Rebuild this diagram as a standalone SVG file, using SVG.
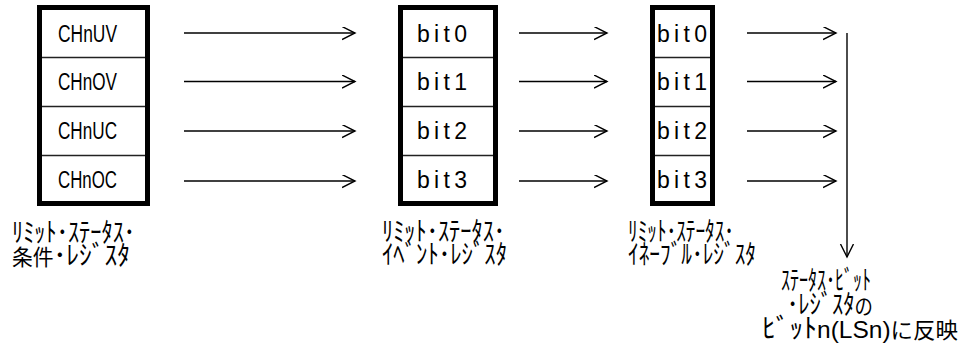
<svg xmlns="http://www.w3.org/2000/svg" width="964" height="345" viewBox="0 0 964 345">
  <style>
    .reg { fill: #fff; stroke: #000; stroke-width: 5; }
    .div { stroke: #222; stroke-width: 1.5; }
    .cell { font-family: "Liberation Sans", Arial, sans-serif; font-size: 23px; fill: #000; }
    .lbl { font-family: "Noto Sans CJK JP", sans-serif; font-size: 27px; fill: #000; }
    .kanji { font-size: 22px; }
    .latin { font-family: "Liberation Sans", Arial, sans-serif; font-size: 24px; }
    .conn { stroke: #000; stroke-width: 1.4; fill: none; }
  </style>
  <defs>
    <marker id="open-arrow" markerUnits="userSpaceOnUse" markerWidth="16" markerHeight="16" refX="13" refY="6.5" orient="auto">
      <path d="M0,0 L13,6.5 L0,13" fill="none" stroke="#000" stroke-width="1.4"/>
    </marker>
  </defs>

  <!-- condition register -->
  <g id="condition-register">
    <rect class="reg" x="39.5" y="7.5" width="108" height="196"/>
    <line class="div" x1="42" y1="57.5" x2="145" y2="57.5"/>
    <line class="div" x1="42" y1="106.5" x2="145" y2="106.5"/>
    <line class="div" x1="42" y1="155.5" x2="145" y2="155.5"/>
    <text class="cell" x="58" y="41.5" textLength="59" lengthAdjust="spacingAndGlyphs">CHnUV</text>
    <text class="cell" x="58" y="90" textLength="59" lengthAdjust="spacingAndGlyphs">CHnOV</text>
    <text class="cell" x="58" y="139" textLength="59" lengthAdjust="spacingAndGlyphs">CHnUC</text>
    <text class="cell" x="58" y="187.5" textLength="59" lengthAdjust="spacingAndGlyphs">CHnOC</text>
    <text class="lbl" x="12" y="242" textLength="123" lengthAdjust="spacingAndGlyphs">ﾘﾐｯﾄ･ｽﾃｰﾀｽ･</text>
    <text class="lbl" x="12" y="265" textLength="118" lengthAdjust="spacingAndGlyphs"><tspan class="kanji">条件</tspan>･ﾚｼﾞｽﾀ</text>
  </g>

  <!-- event register -->
  <g id="event-register">
    <rect class="reg" x="400.5" y="7.5" width="95" height="196"/>
    <line class="div" x1="403" y1="57.5" x2="493" y2="57.5"/>
    <line class="div" x1="403" y1="106.5" x2="493" y2="106.5"/>
    <line class="div" x1="403" y1="155.5" x2="493" y2="155.5"/>
    <text class="cell" x="417" y="41.5" textLength="50" lengthAdjust="spacing">bit0</text>
    <text class="cell" x="417" y="90" textLength="50" lengthAdjust="spacing">bit1</text>
    <text class="cell" x="417" y="139" textLength="50" lengthAdjust="spacing">bit2</text>
    <text class="cell" x="417" y="187.5" textLength="50" lengthAdjust="spacing">bit3</text>
    <text class="lbl" x="382" y="241" textLength="123" lengthAdjust="spacingAndGlyphs">ﾘﾐｯﾄ･ｽﾃｰﾀｽ･</text>
    <text class="lbl" x="382" y="264" textLength="125" lengthAdjust="spacingAndGlyphs">ｲﾍﾞﾝﾄ･ﾚｼﾞｽﾀ</text>
  </g>

  <!-- enable register -->
  <g id="enable-register">
    <rect class="reg" x="652.5" y="7.5" width="60" height="196"/>
    <line class="div" x1="655" y1="57.5" x2="710" y2="57.5"/>
    <line class="div" x1="655" y1="106.5" x2="710" y2="106.5"/>
    <line class="div" x1="655" y1="155.5" x2="710" y2="155.5"/>
    <text class="cell" x="657" y="41.5" textLength="50" lengthAdjust="spacing">bit0</text>
    <text class="cell" x="657" y="90" textLength="50" lengthAdjust="spacing">bit1</text>
    <text class="cell" x="657" y="139" textLength="50" lengthAdjust="spacing">bit2</text>
    <text class="cell" x="657" y="187.5" textLength="50" lengthAdjust="spacing">bit3</text>
    <text class="lbl" x="628" y="241" textLength="106" lengthAdjust="spacingAndGlyphs">ﾘﾐｯﾄ･ｽﾃｰﾀｽ･</text>
    <text class="lbl" x="628" y="264" textLength="128" lengthAdjust="spacingAndGlyphs">ｲﾈｰﾌﾞﾙ･ﾚｼﾞｽﾀ</text>
  </g>

  <!-- status bit register destination -->
  <g id="status-bit-target">
    <text class="lbl" x="781" y="290" textLength="90" lengthAdjust="spacingAndGlyphs">ｽﾃｰﾀｽ･ﾋﾞｯﾄ</text>
    <text class="lbl" x="787" y="314" textLength="86" lengthAdjust="spacingAndGlyphs">･ﾚｼﾞｽﾀ<tspan class="kanji">の</tspan></text>
    <text class="lbl" x="762" y="338" textLength="196" lengthAdjust="spacingAndGlyphs">ﾋﾞｯﾄ<tspan class="latin">n(LSn)</tspan><tspan class="kanji">に反映</tspan></text>
  </g>

  <!-- connectors -->
  <g id="connectors" class="conn" marker-end="url(#open-arrow)">
    <line x1="184" y1="33" x2="355" y2="33"/>
    <line x1="184" y1="81.5" x2="355" y2="81.5"/>
    <line x1="184" y1="131" x2="355" y2="131"/>
    <line x1="184" y1="181" x2="355" y2="181"/>
    <line x1="519" y1="33" x2="607" y2="33"/>
    <line x1="519" y1="81.5" x2="607" y2="81.5"/>
    <line x1="519" y1="131" x2="607" y2="131"/>
    <line x1="519" y1="181" x2="607" y2="181"/>
    <line x1="747" y1="33" x2="836" y2="33"/>
    <line x1="747" y1="81.5" x2="836" y2="81.5"/>
    <line x1="747" y1="131" x2="836" y2="131"/>
    <line x1="747" y1="181" x2="836" y2="181"/>
    <line x1="847" y1="33" x2="847" y2="257"/>
  </g>
</svg>
